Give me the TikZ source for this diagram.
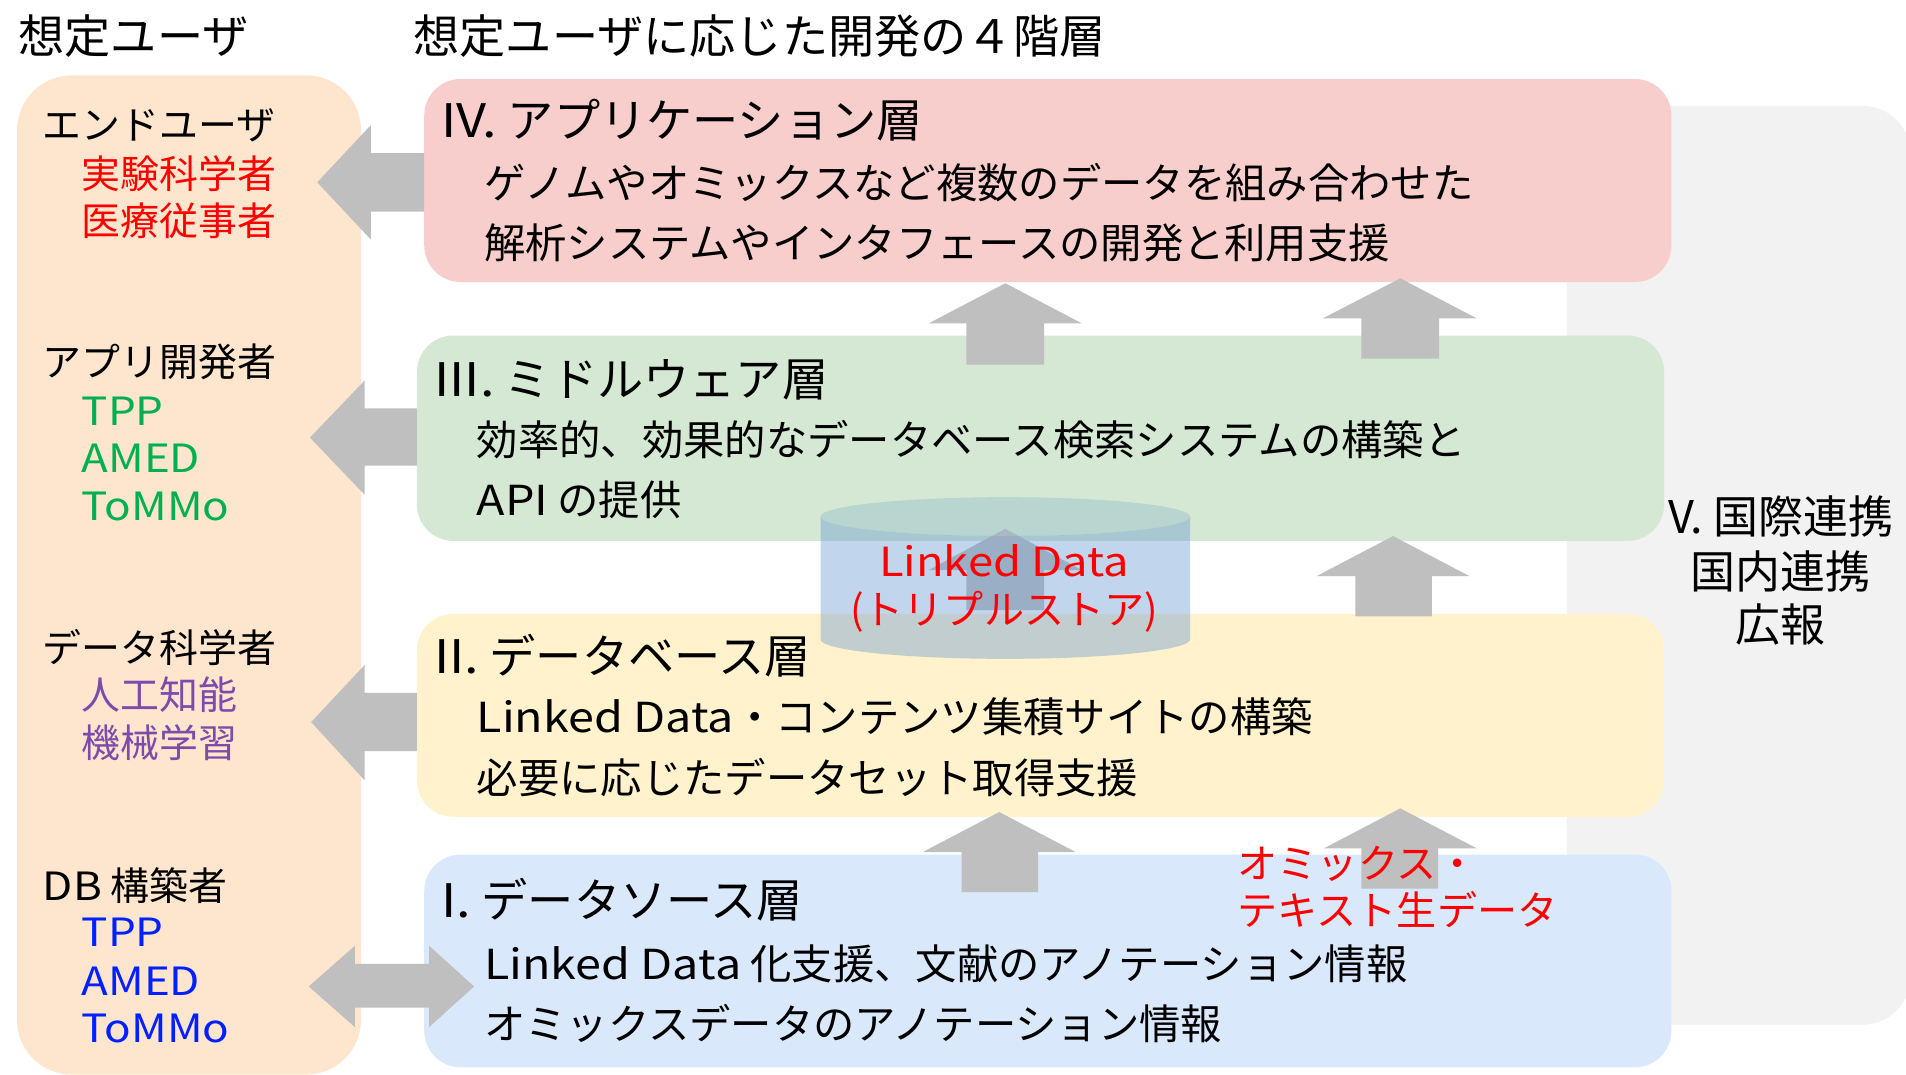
\documentclass[tikz,border=0pt]{standalone}
\usepackage{fontspec}
\setmainfont{Noto Sans CJK JP}
\newfontfamily\lat[FakeStretch=1.13]{Noto Sans CJK JP}
\newcommand\fsz[1]{\fontsize{#1}{#1}\selectfont}
\definecolor{peachc}{RGB}{253,230,205}
\definecolor{pinkc}{RGB}{248,206,204}
\definecolor{greenc}{RGB}{213,232,212}
\definecolor{yellowc}{RGB}{255,242,204}
\definecolor{bluec}{RGB}{218,232,252}
\definecolor{grayc}{RGB}{242,242,242}
\definecolor{arrowc}{RGB}{191,191,191}
\definecolor{redt}{RGB}{255,0,0}
\definecolor{greent}{RGB}{0,176,80}
\definecolor{purplet}{RGB}{125,75,170}
\definecolor{bluet}{RGB}{0,32,255}
\definecolor{cylc}{RGB}{100,150,210}
\definecolor{cyltop}{RGB}{120,170,200}
\begin{document}
\begin{tikzpicture}[x=1pt,y=-1pt,
  txt/.style={inner sep=0pt, anchor=base west},
  ctxt/.style={inner sep=0pt, anchor=base},
  layer/.style={rounded corners=30pt},
  blockarrow/.style={fill=arrowc, draw=none}]
\useasboundingbox (0,0) rectangle (1568,884);
% background boxes
\fill[grayc, rounded corners=40pt] (1289,87) rectangle (1572,843);
\fill[peachc, rounded corners=45pt] (14,62) rectangle (297,884);
\fill[pinkc, layer] (349,65) rectangle (1375,232);
\fill[greenc, layer] (343,276) rectangle (1369,445);
\fill[yellowc, layer] (343,505) rectangle (1369,672);
\fill[bluec, layer] (349,703) rectangle (1375,878);
% left arrows
\path[blockarrow] (349,126) -- (305,126) -- (305,103) -- (261,150) -- (305,197) -- (305,174) -- (349,174) -- cycle;
\path[blockarrow] (343,336) -- (300,336) -- (300,313) -- (255,360) -- (300,407) -- (300,383) -- (343,383) -- cycle;
\path[blockarrow] (343,570) -- (300,570) -- (300,547) -- (256,594) -- (300,642) -- (300,618) -- (343,618) -- cycle;
\path[blockarrow] (292,793) -- (353,793) -- (353,778) -- (390,811.5) -- (353,845) -- (353,829) -- (292,829) -- (292,845) -- (254,811.5) -- (292,778) -- cycle;
% up arrows
\path[blockarrow] (795,300) -- (795,266) -- (764,266) -- (827,233) -- (890,266) -- (859,266) -- (859,300) -- cycle;
\path[blockarrow] (1120,295) -- (1120,262) -- (1088,262) -- (1152,229) -- (1215,262) -- (1184,262) -- (1184,295) -- cycle;
\path[blockarrow] (795,502) -- (795,469) -- (764,469) -- (827,435) -- (890,469) -- (859,469) -- (859,502) -- cycle;
\path[blockarrow] (1115,507) -- (1115,474) -- (1083,474) -- (1146,441) -- (1209,474) -- (1178,474) -- (1178,507) -- cycle;
\path[blockarrow] (791,734) -- (791,701) -- (759,701) -- (822,668) -- (885,701) -- (854,701) -- (854,734) -- cycle;
\path[blockarrow] (1120,731) -- (1120,698) -- (1089,698) -- (1152,665) -- (1215,698) -- (1183,698) -- (1183,731) -- cycle;
% cylinder (Linked Data)
\fill[cylc, fill opacity=0.4] (675,425) -- (675,526) arc[start angle=180, end angle=0, x radius=152, y radius=16] -- (979,425) arc[start angle=0, end angle=180, x radius=152, y radius=16] -- cycle;
\fill[cyltop, fill opacity=0.3] (827,425) ellipse [x radius=152, y radius=16];
% headers
\node[txt, font=\fsz{38}] (h1) at (15,44) {想定ユーザ};
\node[txt, font=\fsz{38}] (h2) at (340,44) {想定ユーザに応じた開発の４階層};
% users
\node[txt, font=\fsz{32}] (u1) at (35,115) {エンドユーザ};
\node[txt, font=\fsz{32}, text=redt] (u1a) at (67,155) {実験科学者};
\node[txt, font=\fsz{32}, text=redt] (u1b) at (67,194) {医療従事者};
\node[txt, font=\fsz{32}] (u2) at (35,310) {アプリ開発者};
\node[txt, font=\fsz{32}\lat, text=greent] (u2a) at (67,350) {TPP};
\node[txt, font=\fsz{32}\lat, text=greent] (u2b) at (67,389) {AMED};
\node[txt, font=\fsz{32}\lat, text=greent] (u2c) at (67,428) {ToMMo};
\node[txt, font=\fsz{32}] (u3) at (35,545) {データ科学者};
\node[txt, font=\fsz{32}, text=purplet] (u3a) at (67,584) {人工知能};
\node[txt, font=\fsz{32}, text=purplet] (u3b) at (67,623) {機械学習};
\node[txt, font=\fsz{32}] (u4) at (35,741) {{\lat DB} 構築者};
\node[txt, font=\fsz{32}\lat, text=bluet] (u4a) at (67,779) {TPP};
\node[txt, font=\fsz{32}\lat, text=bluet] (u4b) at (67,819) {AMED};
\node[txt, font=\fsz{32}\lat, text=bluet] (u4c) at (67,858) {ToMMo};
% layer IV
\node[txt, font=\fsz{38}] (t4) at (363,113) {{\lat IV.} アプリケーション層};
\node[txt, font=\fsz{34}] (b4a) at (398,163) {ゲノムやオミックスなど複数のデータを組み合わせた};
\node[txt, font=\fsz{34}] (b4b) at (398,213) {解析システムやインタフェースの開発と利用支援};
% layer III
\node[txt, font=\fsz{38}] (t3) at (357,326) {{\lat III.} ミドルウェア層};
\node[txt, font=\fsz{34}] (b3a) at (392,375) {効率的、効果的なデータベース検索システムの構築と};
\node[txt, font=\fsz{34}] (b3b) at (392,424) {{\lat API} の提供};
% layer II
\node[txt, font=\fsz{38}] (t2) at (357,554) {{\lat II.} データベース層};
\node[txt, font=\fsz{34}] (b2a) at (392,603) {{\lat Linked Data}・コンテンツ集積サイトの構築};
\node[txt, font=\fsz{34}] (b2b) at (392,653) {必要に応じたデータセット取得支援};
% layer I
\node[txt, font=\fsz{38}] (t1) at (363,755) {{\lat I.} データソース層};
\node[txt, font=\fsz{34}] (b1a) at (398,806) {{\lat Linked Data} 化支援、文献のアノテーション情報};
\node[txt, font=\fsz{34}] (b1b) at (398,855) {オミックスデータのアノテーション情報};
% V
\node[ctxt, font=\fsz{37}] (v1) at (1465,439) {V. 国際連携};
\node[ctxt, font=\fsz{37}] (v2) at (1465,484) {国内連携};
\node[ctxt, font=\fsz{37}] (v3) at (1465,528) {広報};
% red labels
\node[ctxt, font=\fsz{33}\lat, text=redt] (ld1) at (826,474) {Linked Data};
\node[ctxt, font=\fsz{33}, text=redt] (ld2) at (826,514) {(トリプルストア)};
\node[txt, font=\fsz{33}, text=redt] (om1) at (1018,723) {オミックス・};
\node[txt, font=\fsz{33}, text=redt] (om2) at (1018,761) {テキスト生データ};
\end{tikzpicture}
\end{document}
